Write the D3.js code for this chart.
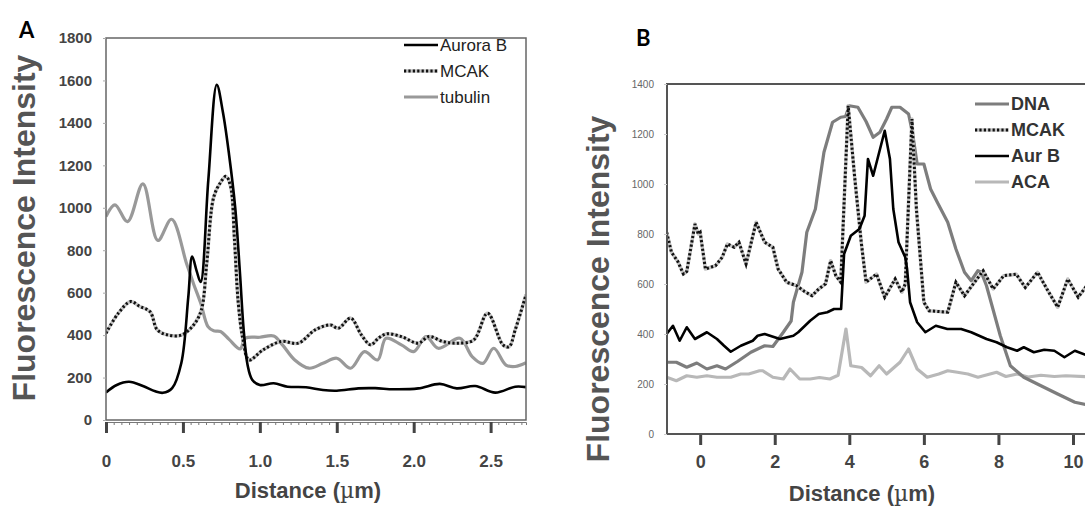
<!DOCTYPE html>
<html>
<head>
<meta charset="utf-8">
<script src="https://cdn.jsdelivr.net/npm/d3@7"></script>
<style>
  body { margin: 0; background: #fff; }
  text { font-family: "Liberation Sans", Arial, sans-serif; }
</style>
</head>
<body>
<div id="chart"></div>
<script>
// ---- panel A data: [distance um, intensity]
var aAuroraB = [[0,130],[0.07,165],[0.15,180],[0.24,160],[0.32,135],[0.37,128],[0.43,150],[0.49,270],[0.535,580],[0.56,770],[0.59,700],[0.615,650],[0.665,1130],[0.72,1580],[0.76,1450],[0.8,1250],[0.84,1000],[0.87,700],[0.895,424],[0.92,260],[0.95,190],[1.0,165],[1.09,173],[1.18,157],[1.3,154],[1.41,141],[1.5,138],[1.64,149],[1.75,150],[1.87,145],[2.03,149],[2.17,170],[2.28,149],[2.4,160],[2.53,129],[2.66,157],[2.73,155]];
var aMCAK = [[0,409],[0.08,503],[0.16,558],[0.22,535],[0.287,510],[0.333,425],[0.4,401],[0.49,400],[0.57,448],[0.62,519],[0.655,740],[0.7,1050],[0.745,1120],[0.78,1148],[0.81,1100],[0.835,850],[0.86,550],[0.89,380],[0.93,283],[1.02,330],[1.14,370],[1.25,362],[1.36,425],[1.46,448],[1.51,432],[1.59,480],[1.66,401],[1.72,354],[1.77,385],[1.825,406],[1.92,393],[2.03,362],[2.1,393],[2.19,370],[2.28,362],[2.39,377],[2.48,503],[2.58,354],[2.62,345],[2.66,425],[2.73,590]];
var aTubulin = [[0,959],[0.058,1014],[0.14,935],[0.24,1113],[0.337,846],[0.426,946],[0.523,739],[0.57,640],[0.616,550],[0.663,440],[0.7,420],[0.744,417],[0.8,380],[0.872,335],[0.906,385],[1.0,390],[1.09,396],[1.147,354],[1.227,283],[1.32,244],[1.41,267],[1.5,291],[1.59,244],[1.68,322],[1.766,283],[1.82,385],[1.92,354],[2.0,322],[2.08,393],[2.16,338],[2.3,385],[2.38,299],[2.45,267],[2.52,338],[2.6,259],[2.66,252],[2.73,270]];
var aXTicks = [0, 0.5, 1.0, 1.5, 2.0, 2.5];
var aYTicks = [0, 200, 400, 600, 800, 1000, 1200, 1400, 1600, 1800];
var aNames = ["Aurora B", "MCAK", "tubulin"];

// ---- panel B data
var bDNA = [[-0.9,287],[-0.64,287],[-0.36,267],[-0.09,284],[0.18,260],[0.45,273],[0.68,260],[1.0,290],[1.36,327],[1.73,353],[1.95,350],[2.23,407],[2.44,452],[2.5,527],[2.73,647],[2.86,807],[3.09,900],[3.32,1127],[3.55,1247],[3.77,1267],[3.9,1270],[4.0,1313],[4.23,1307],[4.45,1250],[4.64,1187],[4.82,1207],[5.0,1260],[5.14,1307],[5.36,1307],[5.59,1280],[5.7,1200],[5.82,1080],[6.0,1080],[6.18,980],[6.36,927],[6.64,847],[6.86,740],[7.09,647],[7.27,613],[7.45,653],[7.54,647],[7.68,593],[8.05,393],[8.32,273],[8.68,227],[9.14,193],[9.59,160],[10.05,127],[10.5,113]];
var bMCAK = [[-0.9,807],[-0.77,727],[-0.6,690],[-0.45,640],[-0.36,650],[-0.14,840],[-0.05,800],[0.0,807],[0.14,660],[0.41,673],[0.59,707],[0.73,760],[0.91,747],[1.04,767],[1.23,680],[1.5,847],[1.73,767],[1.95,747],[2.09,660],[2.32,607],[2.59,593],[2.8,570],[3.0,553],[3.18,580],[3.36,600],[3.5,693],[3.64,633],[3.77,607],[3.97,1313],[4.14,1033],[4.32,767],[4.45,607],[4.73,640],[4.95,547],[5.23,620],[5.41,567],[5.5,600],[5.68,1260],[5.8,900],[6.0,527],[6.14,493],[6.64,487],[6.86,607],[7.09,553],[7.35,605],[7.59,653],[7.86,580],[8.14,633],[8.48,639],[8.72,586],[9.05,647],[9.3,580],[9.59,507],[9.86,620],[10.14,547],[10.5,620]];
var bAurB = [[-0.9,400],[-0.73,433],[-0.55,373],[-0.36,427],[-0.14,380],[0.18,407],[0.45,380],[0.64,353],[0.82,329],[1.09,353],[1.41,373],[1.54,393],[1.73,400],[2.14,380],[2.5,393],[2.63,407],[2.95,453],[3.18,480],[3.41,487],[3.59,500],[3.78,500],[3.86,720],[4.04,793],[4.27,820],[4.41,873],[4.5,1100],[4.64,1033],[4.95,1213],[5.09,1100],[5.18,900],[5.32,767],[5.5,707],[5.55,660],[5.63,527],[5.82,447],[6.04,407],[6.32,433],[6.63,420],[7.0,420],[7.27,407],[7.68,380],[7.95,367],[8.23,347],[8.5,333],[8.68,347],[8.95,327],[9.23,337],[9.5,333],[9.77,307],[10.05,333],[10.5,307]];
var bACA = [[-0.9,227],[-0.64,213],[-0.36,233],[-0.09,227],[0.18,233],[0.45,227],[0.82,227],[1.09,240],[1.3,240],[1.59,253],[1.68,253],[1.95,227],[2.23,220],[2.41,260],[2.67,220],[2.95,220],[3.2,226],[3.48,220],[3.7,235],[3.91,420],[4.04,273],[4.33,266],[4.57,233],[4.8,273],[5.0,240],[5.36,287],[5.59,340],[5.82,260],[6.09,227],[6.4,240],[6.64,253],[6.9,247],[7.18,240],[7.45,227],[7.95,247],[8.2,230],[8.5,240],[8.8,228],[9.14,235],[9.5,230],[9.81,233],[10.5,228]];
var bXTicks = [0, 2, 4, 6, 8, 10];
var bYTicks = [0, 200, 400, 600, 800, 1000, 1200, 1400];
var bNames = ["DNA", "MCAK", "Aur B", "ACA"];

var svg = d3.select("#chart").append("svg")
  .attr("width", 1085)
  .attr("height", 509);

// draws one series; dotted = MCAK style (grey halo + black dots)
function drawSeries(g, data, x, y, style, curve) {
  var line = d3.line()
    .x(function(d) { return x(d[0]); })
    .y(function(d) { return y(d[1]); })
    .curve(curve);
  if (style.dotted) {
    g.append("path").datum(data)
      .attr("d", line).attr("fill", "none")
      .attr("stroke", "#c4c4c4").attr("stroke-width", 3.5)
      .attr("stroke-linejoin", "round");
    g.append("path").datum(data)
      .attr("d", line).attr("fill", "none")
      .attr("stroke", "#111").attr("stroke-width", 3)
      .attr("stroke-dasharray", "2.2,2.2");
  } else {
    g.append("path").datum(data)
      .attr("d", line).attr("fill", "none")
      .attr("stroke", style.color).attr("stroke-width", style.width)
      .attr("stroke-linejoin", "round");
  }
}

function legendRow(g, x0, yy, name, style, fs) {
  if (style.dotted) {
    g.append("line").attr("x1", x0).attr("x2", x0 + 34).attr("y1", yy).attr("y2", yy)
      .attr("stroke", "#c4c4c4").attr("stroke-width", 3.5);
    g.append("line").attr("x1", x0).attr("x2", x0 + 34).attr("y1", yy).attr("y2", yy)
      .attr("stroke", "#111").attr("stroke-width", 3).attr("stroke-dasharray", "2.2,2.2");
  } else {
    g.append("line").attr("x1", x0).attr("x2", x0 + 34).attr("y1", yy).attr("y2", yy)
      .attr("stroke", style.color).attr("stroke-width", style.width);
  }
  g.append("text").attr("x", x0 + 36).attr("y", yy + 6)
    .style("font-size", fs + "px").style("fill", "#222")
    .text(name);
}

// ================= Panel A =================
var ax = d3.scaleLinear().domain([0, 2.73]).range([106, 526]);
var ay = d3.scaleLinear().domain([0, 1800]).range([420, 38]);
var aStyles = [
  {color: "#000", width: 2.6},
  {dotted: true},
  {color: "#999", width: 3.2}
];

var gA = svg.append("g");
gA.append("defs").append("clipPath").attr("id", "clipA")
  .append("rect").attr("x", 106).attr("y", 38).attr("width", 420).attr("height", 382);

var linesA = gA.append("g").attr("clip-path", "url(#clipA)");
drawSeries(linesA, aTubulin, ax, ay, aStyles[2], d3.curveCatmullRom);
drawSeries(linesA, aMCAK, ax, ay, aStyles[1], d3.curveCatmullRom);
drawSeries(linesA, aAuroraB, ax, ay, aStyles[0], d3.curveCatmullRom);

gA.append("rect").attr("x", 106).attr("y", 38).attr("width", 420).attr("height", 382)
  .attr("fill", "none").attr("stroke", "#666").attr("stroke-width", 1.5);

// minor ticks along x
gA.append("g").attr("transform", "translate(0,422)")
  .call(d3.axisBottom(ax).tickValues(d3.range(0, 2.73, 0.05)).tickSize(3).tickFormat(""))
  .call(function(g) { g.selectAll("line").attr("stroke", "#777"); g.select(".domain").attr("stroke", "#777"); });

gA.append("g").attr("transform", "translate(0,422)")
  .call(d3.axisBottom(ax).tickValues(aXTicks).tickSize(11).tickPadding(22)
    .tickFormat(function(d) { return d === 0 ? "0" : d3.format(".1f")(d); }))
  .call(function(g) {
    g.select(".domain").remove();
    g.selectAll("line").attr("stroke", "#444").attr("stroke-width", 3);
    g.selectAll("text").style("font-size", "17px").style("font-weight", "bold")
      .style("fill", "#444").style("font-family", "Liberation Sans, Arial");
  });

gA.append("g").attr("transform", "translate(106,0)")
  .call(d3.axisLeft(ay).tickValues(aYTicks).tickSize(3).tickPadding(11).tickFormat(d3.format("d")))
  .call(function(g) {
    g.select(".domain").remove();
    g.selectAll("line").attr("stroke", "#aaa");
    g.selectAll("text").style("font-size", "15px").style("font-weight", "bold")
      .style("fill", "#444").style("font-family", "Liberation Sans, Arial");
  });

var legA = gA.append("g");
aNames.forEach(function(n, i) { legendRow(legA, 404, 45 + i * 26, n, aStyles[i], 17); });

gA.append("text").attr("x", 19).attr("y", 38)
  .style("font-family", "Lato, Open Sans, sans-serif").style("font-weight", "bold")
  .style("font-size", "22px").style("fill", "#000").text("A");

gA.append("text")
  .attr("transform", "translate(35,228) rotate(-90)")
  .attr("text-anchor", "middle")
  .style("font-size", "32px").style("font-weight", "bold").style("fill", "#555")
  .text("Fluorescence Intensity");

var xtA = gA.append("text").attr("x", 308).attr("y", 498).attr("text-anchor", "middle")
  .style("font-size", "22px").style("font-weight", "bold").style("fill", "#444");
xtA.append("tspan").text("Distance (");
xtA.append("tspan").style("font-weight", "normal").style("font-family", "DejaVu Serif").text("µ");
xtA.append("tspan").text("m)");

// ================= Panel B =================
var bx = d3.scaleLinear().domain([-0.89, 11.1]).range([667, 1114]);
var by = d3.scaleLinear().domain([0, 1400]).range([434, 84]);
var bStyles = [
  {color: "#7d7d7d", width: 3.2},
  {dotted: true},
  {color: "#000", width: 2.6},
  {color: "#b8b8b8", width: 3.2}
];

var gB = svg.append("g");
gB.append("defs").append("clipPath").attr("id", "clipB")
  .append("rect").attr("x", 667).attr("y", 84).attr("width", 450).attr("height", 350);

var linesB = gB.append("g").attr("clip-path", "url(#clipB)");
drawSeries(linesB, bACA, bx, by, bStyles[3], d3.curveLinear);
drawSeries(linesB, bDNA, bx, by, bStyles[0], d3.curveLinear);
drawSeries(linesB, bMCAK, bx, by, bStyles[1], d3.curveLinear);
drawSeries(linesB, bAurB, bx, by, bStyles[2], d3.curveLinear);

gB.append("rect").attr("x", 667).attr("y", 84).attr("width", 450).attr("height", 350)
  .attr("fill", "none").attr("stroke", "#555").attr("stroke-width", 2);

gB.append("g").attr("transform", "translate(0,435)")
  .call(d3.axisBottom(bx).tickValues(bXTicks).tickSize(10).tickPadding(10))
  .call(function(g) {
    g.select(".domain").remove();
    g.selectAll("line").attr("stroke", "#444").attr("stroke-width", 3);
    g.selectAll("text").style("font-size", "18px").style("font-weight", "bold")
      .style("fill", "#444").style("font-family", "Liberation Sans, Arial");
  });

gB.append("g").attr("transform", "translate(667,0)")
  .call(d3.axisLeft(by).tickValues(bYTicks).tickSize(3).tickPadding(10).tickFormat(d3.format("d")))
  .call(function(g) {
    g.select(".domain").remove();
    g.selectAll("line").attr("stroke", "#ccc");
    g.selectAll("text").style("font-size", "10px")
      .style("fill", "#666").style("font-family", "Liberation Sans Narrow, Liberation Sans, Arial");
  });

var legB = gB.append("g");
bNames.forEach(function(n, i) { legendRow(legB, 975, 104 + i * 26, n, bStyles[i], 18); });
legB.selectAll("text").style("font-weight", "bold").style("fill", "#333");

gB.append("text").attr("x", 636).attr("y", 46)
  .style("font-family", "Lato, Open Sans, sans-serif").style("font-weight", "bold")
  .style("font-size", "22px").style("fill", "#000").text("B");

gB.append("text")
  .attr("transform", "translate(609,289) rotate(-90)")
  .attr("text-anchor", "middle")
  .style("font-size", "32px").style("font-weight", "bold").style("fill", "#555")
  .text("Fluorescence Intensity");

var xtB = gB.append("text").attr("x", 862).attr("y", 501).attr("text-anchor", "middle")
  .style("font-size", "22px").style("font-weight", "bold").style("fill", "#444");
xtB.append("tspan").text("Distance (");
xtB.append("tspan").style("font-weight", "normal").style("font-family", "DejaVu Serif").text("µ");
xtB.append("tspan").text("m)");
</script>
</body>
</html>
